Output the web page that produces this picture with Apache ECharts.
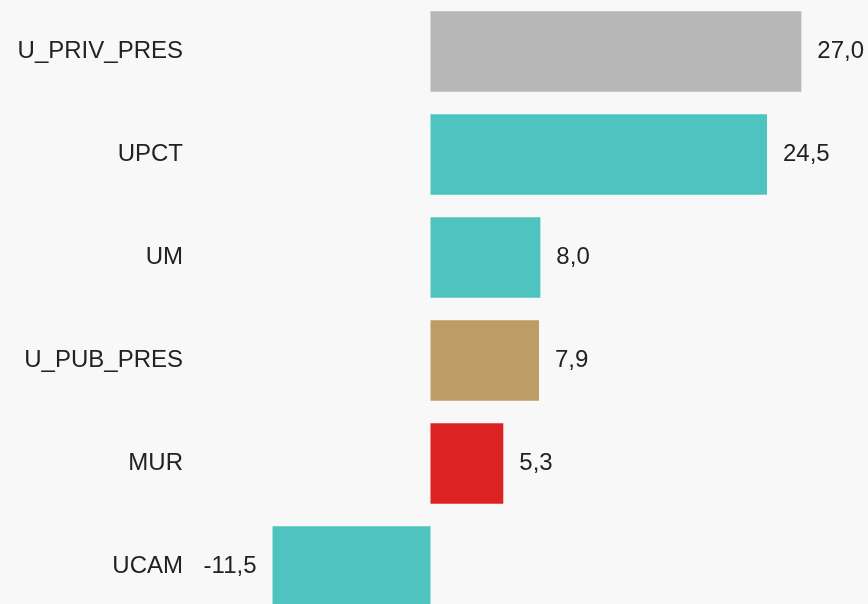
<!DOCTYPE html>
<html>
<head>
<meta charset="utf-8">
<script src="https://cdn.jsdelivr.net/npm/echarts@6/dist/echarts.min.js"></script>
<style>
  html, body { margin: 0; padding: 0; background: #f8f8f8; }
  #chart { width: 868px; height: 604px; }
</style>
</head>
<body>
<div id="chart"></div>
<script>
// datos (de arriba a abajo)
const categories = ['U_PRIV_PRES', 'UPCT', 'UM', 'U_PUB_PRES', 'MUR', 'UCAM'];
const values = [27.0, 24.5, 8.0, 7.9, 5.3, -11.5];
const barColors = ['#b7b7b7', '#4fc3bf', '#4fc3bf', '#bd9c65', '#dc2323', '#4fc3bf'];

const chartDom = document.getElementById('chart');
const myChart = echarts.init(chartDom);

const option = {
  backgroundColor: '#f8f8f8',
  animation: false,
  grid: {
    left: 197, width: 673, top: 0, height: 618,
    containLabel: false,
    outerBoundsMode: 'none'   // el grid sobresale por abajo como en el original
  },
  xAxis: {
    type: 'value',
    min: -17,
    max: 32,
    show: false
  },
  yAxis: {
    type: 'category',
    inverse: true,
    data: categories,
    axisLine: { show: false },
    axisTick: { show: false },
    axisLabel: {
      margin: 14,
      fontSize: 24,
      color: '#222',
      fontFamily: 'Liberation Sans, Arial, sans-serif'
    }
  },
  series: [
    {
      type: 'bar',
      barCategoryGap: '22%',
      data: values.map((v, i) => ({
        value: v,
        itemStyle: { color: barColors[i] },
        label: { position: v < 0 ? 'left' : 'right' }
      })),
      label: {
        show: true,
        distance: 16,
        fontSize: 24,
        color: '#222',
        fontFamily: 'Liberation Sans, Arial, sans-serif',
        formatter: p => p.value.toFixed(1).replace('.', ',')
      }
    }
  ]
};

myChart.setOption(option);
</script>
</body>
</html>
